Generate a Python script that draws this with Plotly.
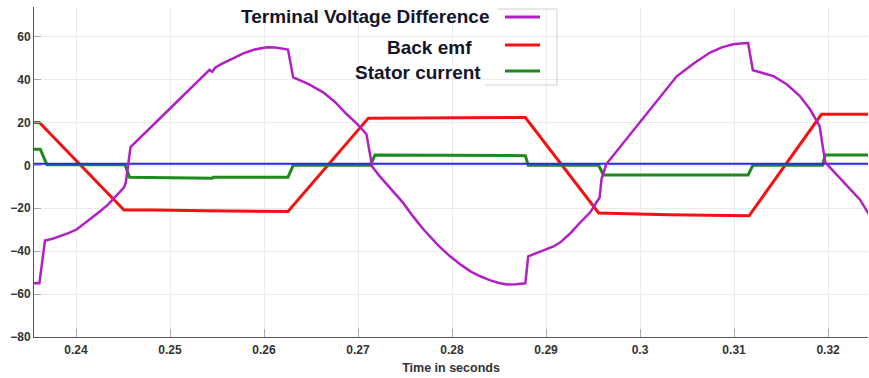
import plotly.graph_objects as go

# ---- data ----
t_volt = [0.2355, 0.2361, 0.2367, 0.2375, 0.2383, 0.2392, 0.2401, 0.2413, 0.2426, 0.2434,
          0.2441, 0.2447, 0.2451, 0.2453, 0.2456, 0.2458,
          0.2500, 0.2542, 0.2545, 0.2548, 0.2555, 0.2567, 0.2578, 0.2589, 0.2596, 0.2603,
          0.2612, 0.2621, 0.26255, 0.2631,
          0.2647, 0.2663, 0.2676, 0.2688, 0.2699, 0.2709, 0.2715,
          0.2723, 0.2748, 0.27585, 0.2770, 0.2785, 0.27979, 0.2810, 0.2820, 0.2830, 0.2840,
          0.2850, 0.28585, 0.2868, 0.2878, 0.2881,
          0.29007, 0.2908, 0.29149, 0.2925, 0.29362, 0.29468, 0.2957, 0.2959, 0.2964,
          0.3039, 0.3057, 0.30745, 0.3087, 0.3099, 0.3107, 0.3115, 0.3120,
          0.3142, 0.3156, 0.3170, 0.3181, 0.3191, 0.3197, 0.3234, 0.3245]
v_volt = [-55, -55, -35, -34.2, -33, -31.6, -29.8, -25.8, -21.3, -18.3,
          -15, -12.6, -10.4, -8, 2, 8.5,
          26.5, 44.5, 43.6, 45.5, 47.3, 49.8, 52.2, 53.9, 54.6, 55,
          54.9, 54.5, 54, 41,
          38, 34, 29.3, 23.8, 19.3, 14.5, -0.5,
          -5, -17.5, -23.8, -30, -37.2, -42.4, -46.5, -49.5, -51.7, -53.5,
          -54.8, -55.5, -55.4, -55, -42.4,
          -39.2, -37.8, -36, -32, -26.7, -22, -15, -6.5, 0.5,
          41.5, 47.5, 52.6, 55, 56.4, 56.8, 57, 44.3,
          41.6, 37.8, 32.3, 26, 18.3, 1.4, -16, -24]

t_emf = [0.2355, 0.2361, 0.2451, 0.2483, 0.2537, 0.26255, 0.2711, 0.2830, 0.2878,
         0.2956, 0.3030, 0.3116, 0.3193, 0.3245]
v_emf = [20, 20, -20.8, -20.8, -21.2, -21.5, 22, 22.3, 22.3,
         -22.2, -23, -23.5, 23.8, 23.8]

t_cur = [0.2355, 0.2362, 0.2369, 0.2452, 0.2457, 0.2545, 0.2546, 0.26255, 0.2631, 0.2713,
         0.2718, 0.2878, 0.2881, 0.2956, 0.2961, 0.3115, 0.3120, 0.3194, 0.3197, 0.3245]
v_cur = [7.5, 7.5, 0.3, 0.3, -5.6, -6, -5.5, -5.5, 0, 0,
         4.8, 4.5, 0, 0, -4.5, -4.5, 0, 0, 4.8, 4.8]

t_ref = [0.2355, 0.3245]
v_ref = [0.8, 0.8]

legend_names = ["Terminal Voltage Difference", "Back emf", "Stator current"]
colors = ["#b21fc4", "#f21212", "#1e8a1e"]
blue = "#2828f0"

fig = go.Figure()
fig.add_trace(go.Scatter(x=t_emf, y=v_emf, mode="lines", line=dict(color=colors[1], width=3),
                         name=legend_names[1], showlegend=False))
fig.add_trace(go.Scatter(x=t_cur, y=v_cur, mode="lines", line=dict(color=colors[2], width=3),
                         name=legend_names[2], showlegend=False))
fig.add_trace(go.Scatter(x=t_ref, y=v_ref, mode="lines", line=dict(color=blue, width=2),
                         showlegend=False))
fig.add_trace(go.Scatter(x=t_volt, y=v_volt, mode="lines", line=dict(color=colors[0], width=2.5),
                         name=legend_names[0], showlegend=False))

L, R, T, B = 34, 868, 7, 337
W, H = R - L, B - T
def px(x):
    return (x - L) / W
def py(y):
    return (B - y) / H

shapes = []
# white background patches behind legend text
shapes.append(dict(type="rect", xref="paper", yref="paper", x0=px(236), x1=px(495), y0=py(30), y1=py(0),
                   fillcolor="white", line=dict(width=0), layer="between"))
shapes.append(dict(type="rect", xref="paper", yref="paper", x0=px(343), x1=px(482), y0=py(88), y1=py(30),
                   fillcolor="white", line=dict(width=0), layer="between"))
# legend frame (faint)
for (x0, y0, x1, y1) in [(497, 9, 557, 9), (557, 9, 557, 85), (485, 85, 557, 85)]:
    shapes.append(dict(type="line", xref="paper", yref="paper", x0=px(x0), x1=px(x1), y0=py(y0), y1=py(y1),
                       line=dict(color="#cfcfcf", width=1)))
# legend samples
rows_y = [17, 45, 71]
for c, yy in zip(colors, rows_y):
    shapes.append(dict(type="line", xref="paper", yref="paper", x0=px(505), x1=px(540), y0=py(yy), y1=py(yy),
                       line=dict(color=c, width=3)))

annotations = []
text_right = [491, 474, 483]
text_y = [17, 47, 73]
for name, xr, yy in zip(legend_names, text_right, text_y):
    annotations.append(dict(text=name, xref="paper", yref="paper", x=px(xr), y=py(yy),
                            xanchor="right", yanchor="middle", showarrow=False,
                            font=dict(family="Liberation Sans, Arial", size=19,
                                      color="#15152a", weight="bold")))

tickfont = dict(family="Liberation Sans, Arial", size=12, color="#333333", weight="bold")
fig.update_layout(
    width=869, height=378,
    margin=dict(l=L, r=869 - R, t=T, b=378 - B),
    paper_bgcolor="white", plot_bgcolor="white",
    shapes=shapes, annotations=annotations,
    xaxis=dict(range=[0.23553, 0.32425], tickvals=[0.24, 0.25, 0.26, 0.27, 0.28, 0.29, 0.30, 0.31, 0.32],
               ticktext=["0.24", "0.25", "0.26", "0.27", "0.28", "0.29", "0.3", "0.31", "0.32"],
               showgrid=True, gridcolor="#ebebeb", gridwidth=1, zeroline=False,
               showline=True, linecolor="#555555", linewidth=1,
               ticks="inside", ticklen=8, tickcolor="#aaaaaa",
               tickfont=tickfont, ticklabelstandoff=2,
               title=dict(text="Time in seconds", font=dict(family="Liberation Sans, Arial", size=12.5,
                                                            color="#333333", weight="bold"), standoff=6)),
    yaxis=dict(range=[-80, 73.8], tickvals=[-80, -60, -40, -20, 0, 20, 40, 60],
               showgrid=True, gridcolor="#ebebeb", gridwidth=1, zeroline=False,
               showline=True, linecolor="#555555", linewidth=1,
               ticks="inside", ticklen=7, tickcolor="#aaaaaa",
               tickfont=tickfont),
)

fig.write_html("out.html")
